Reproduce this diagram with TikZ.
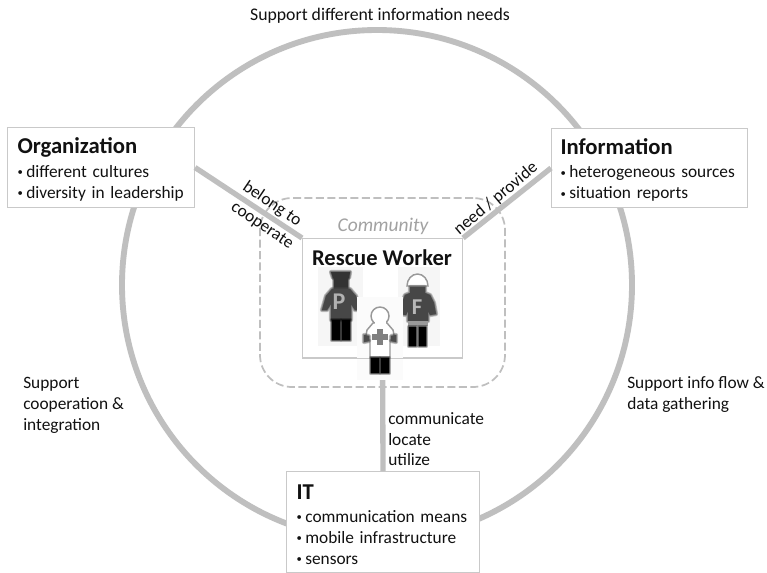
\documentclass[tikz,border=0pt]{standalone}
\usepackage{fontspec}
\setmainfont{Carlito}
\definecolor{ringgray}{HTML}{BFBFBF}
\definecolor{boxgray}{HTML}{C9C9C9}
\definecolor{iconbg}{HTML}{F6F6F6}
\definecolor{iconbglight}{HTML}{FBFBFB}
\definecolor{inktext}{HTML}{111111}
\newcommand{\btitle}[1]{{\fontsize{17pt}{19pt}\selectfont\bfseries\rule{0pt}{15pt}#1}}
\newcommand{\bul}{{\fontsize{8pt}{8pt}\selectfont\raisebox{1.3pt}{\textbullet}}\hspace{2.6pt}}
% soft-edged filled shape: #1 colour, #2 path
\newcommand{\softfill}[2]{%
  \foreach \wd in {3.2,2.2,1.2}{\filldraw[draw=#1,fill=#1,line width=\wd pt,opacity=.3,line join=round] #2;}%
  \fill[#1] #2;}
\tikzset{
  x=.75pt,y=-.75pt,
  ringline/.style={draw=ringgray,line width=4.4pt},
  spoke/.style={draw=ringgray,line width=4pt},
  infobox/.style={draw=boxgray,line width=.8pt,fill=white,anchor=north west,align=left,inner xsep=0pt,inner ysep=0pt,font=\fontsize{13pt}{15.75pt}\selectfont,text=inktext},
  plain/.style={inner sep=0pt,align=left,font=\fontsize{13pt}{15.6pt}\selectfont,text=inktext},
}
\begin{document}
\begin{tikzpicture}
\useasboundingbox (0,0) rectangle (767,572);
\fill[white] (0,0) rectangle (767,572);

\node[ringline,circle,minimum size=382.5pt,inner sep=0pt] (ring) at (377,285) {};

\node[draw=ringgray,line width=1.3pt,dash pattern=on 6pt off 2.6pt,rounded corners=24pt,minimum width=183.75pt,minimum height=141.75pt,inner sep=0pt] (community) at (382.5,292.5) {};

\node[infobox,minimum width=140.25pt,minimum height=60pt,text width=125.25pt] (org) at (7,127)
 {\btitle{Organization}\\[1.8pt] \bul different cultures\\ \bul diversity in leadership};
\node[infobox,minimum width=147pt,minimum height=59.25pt,text width=133.5pt] (info) at (551,128)
 {\btitle{Information}\\[1.8pt] \bul heterogeneous sources\\ \bul situation reports};
\node[infobox,minimum width=120pt,minimum height=89.25pt,anchor=north west] (rw) at (302,238) {};
\node[infobox,minimum width=144.75pt,minimum height=75.75pt,text width=129.75pt] (it) at (286,471)
 {\btitle{IT}\\[1.8pt] \bul communication means\\ \bul mobile infrastructure\\ \bul sensors};

\draw[spoke] (org.east) -- (rw.north west);
\draw[spoke] (info.west) -- (rw.north east);
\draw[spoke] (rw.south) -- (it.north);

\node[inner sep=0pt,text=inktext,font=\fontsize{16.9pt}{19pt}\selectfont\bfseries] (rwtitle) at (382,258) {Rescue Worker};
\node[inner sep=0pt,text=ringgray!85!black,font=\fontsize{14.6pt}{15pt}\selectfont\itshape] (commlabel) at (383,226) {Community};

% police
\fill[iconbg] (318,267) rectangle (363,346);
\softfill{black!80}{(331,272) -- (350,272) -- (349,278) -- (333,278) -- cycle}
\softfill{black!80}{(334,278) -- (348,278) -- (348,289) -- (334,289) -- cycle}
\softfill{black!72}{(332,289) -- (350,289) -- (356,296) -- (360,310) -- (355,310) -- (351,304) -- (351,320) -- (331,320) -- (331,304) -- (327,310) -- (322,310) -- (326,296) -- cycle}
\softfill{black}{(332,320) -- (340,320) -- (340,340) -- (332,340) -- cycle}
\softfill{black}{(342,320) -- (350,320) -- (350,340) -- (342,340) -- cycle}
\node[inner sep=0pt,text=black!30,font=\fontsize{18pt}{18pt}\selectfont\bfseries] (plabel) at (339,302) {P};

% fire
\fill[iconbg] (398,267) rectangle (440,346);
\draw[black!40,line width=1.1pt,fill=white] (407,286) arc[start angle=180,end angle=360,x radius=10.5,y radius=12] -- cycle;
\softfill{black!72}{(410,287) -- (425,287) -- (425,293) -- (430,295) -- (434,303) -- (436,314) -- (430,315) -- (428,311) -- (428,321) -- (408,321) -- (408,311) -- (406,315) -- (400,314) -- (402,303) -- (405,295) -- (410,293) -- cycle}
\fill[black!40] (408,321) rectangle (428,326);
\softfill{black}{(409,327) -- (416,327) -- (416,346) -- (409,346) -- cycle}
\softfill{black}{(419,327) -- (426,327) -- (426,346) -- (419,346) -- cycle}
\node[inner sep=0pt,text=black!28,font=\fontsize{17pt}{17pt}\selectfont\bfseries] (flabel) at (417,307) {F};

% medic
\fill[iconbglight] (357,297) rectangle (403,380);
\draw[boxgray,line width=.8pt] (rw.south west) -- (rw.south east);
\draw[black!40,line width=1.1pt,fill=white] (380,316) circle[radius=9];
\draw[black!40,line width=1.1pt,fill=white] (373,323) -- (387,323) -- (393,330) -- (395,340) -- (390,340) -- (390,357) -- (370,357) -- (370,340) -- (365,340) -- (367,330) -- cycle;
\fill[white] (374.5,320) rectangle (385.5,324.5);
\softfill{black!70}{(364,335) -- (369,336) -- (369,341) -- (364,342) -- cycle}
\softfill{black!70}{(396,335) -- (391,336) -- (391,341) -- (396,342) -- cycle}
\fill[black!50] (377,329) rectangle (383,345);
\fill[black!50] (372,334) rectangle (388,340);
\softfill{black}{(371,358) -- (379,358) -- (379,373) -- (371,373) -- cycle}
\softfill{black}{(381,358) -- (389,358) -- (389,373) -- (381,373) -- cycle}

% labels
\node[plain,rotate=-34] (belong) at (272,204) {belong to};
\node[plain,rotate=-34] (cooperate) at (262,226) {cooperate};
\node[plain,rotate=40] (need) at (496,199) {need / provide};
\node[plain,anchor=north west] (comm) at (388,412) {communicate\\locate\\utilize};
\node[plain,font=\fontsize{13.3pt}{15.6pt}\selectfont] (top) at (380,16) {Support different information needs};
\node[plain,anchor=north west] (left) at (23,377) {Support\\cooperation \&\\integration};
\node[plain,anchor=north west] (right) at (627,376) {Support info flow \&\\data gathering};
\end{tikzpicture}
\end{document}
